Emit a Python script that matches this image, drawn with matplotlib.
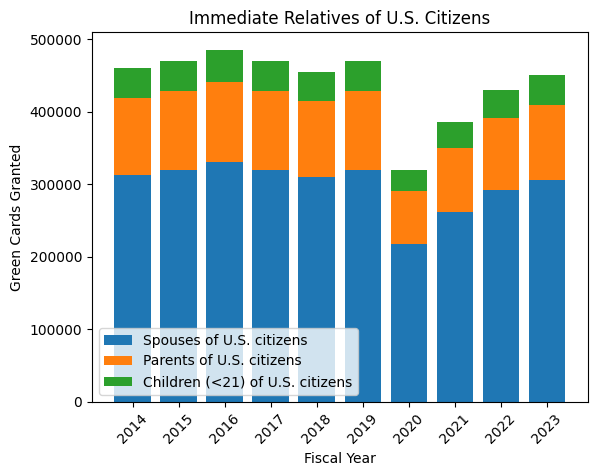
import matplotlib
matplotlib.use("Agg")
import matplotlib.pyplot as plt
import numpy as np

years = [2014, 2015, 2016, 2017, 2018, 2019, 2020, 2021, 2022, 2023]
spouses = [313000, 320000, 330000, 320000, 310000, 320000, 218000, 262000, 292000, 306000]
parents = [106000, 109000, 111000, 109000, 105000, 109000, 73000, 88000, 99000, 103000]
children = [41000, 41000, 44000, 41000, 40000, 41000, 29000, 35000, 39000, 41000]

x = np.array(years)
sp = np.array(spouses)
pa = np.array(parents)
ch = np.array(children)

fig, ax = plt.subplots(figsize=(6.4, 4.8), dpi=100)
ax.bar(x, sp, label="Spouses of U.S. citizens")
ax.bar(x, pa, bottom=sp, label="Parents of U.S. citizens")
ax.bar(x, ch, bottom=sp + pa, label="Children (<21) of U.S. citizens")

ax.set_title("Immediate Relatives of U.S. Citizens")
ax.set_xlabel("Fiscal Year")
ax.set_ylabel("Green Cards Granted")
ax.set_xticks(x)
ax.set_xticklabels([str(y) for y in years], rotation=45)
ax.legend(loc="lower left")

fig.savefig("out.png", dpi=100, bbox_inches="tight")
